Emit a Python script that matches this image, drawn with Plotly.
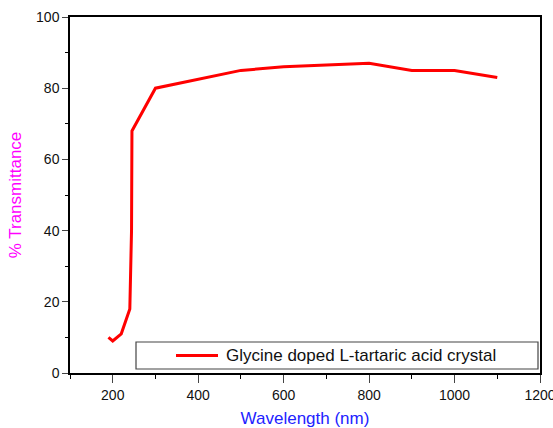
import plotly.graph_objects as go

wavelength = [190, 200, 220, 240, 244, 245, 300, 500, 600, 800, 900, 1000, 1100]
transmittance = [10, 9, 11, 18, 40, 68, 80, 85, 86, 87, 85, 85, 83]
series_name = "Glycine doped L-tartaric acid crystal"
x_ticks = [200, 400, 600, 800, 1000, 1200]
y_ticks = [0, 20, 40, 60, 80, 100]

L, R, T, B = 70, 540, 17, 373
def px(xp):
    return (xp - L) / (R - L)
def py(yp):
    return (B - yp) / (B - T)

fig = go.Figure()
fig.add_trace(go.Scatter(x=wavelength, y=transmittance, mode="lines",
                         name=series_name, showlegend=False,
                         line=dict(color="#ff0000", width=3)))

# legend box, sample line and label
fig.add_shape(type="rect", xref="paper", yref="paper",
              x0=px(136), x1=px(538), y0=py(369), y1=py(342),
              line=dict(color="#444444", width=1.2), fillcolor="rgba(0,0,0,0)")
fig.add_shape(type="line", xref="paper", yref="paper",
              x0=px(176), x1=px(218), y0=py(355.5), y1=py(355.5),
              line=dict(color="#ff0000", width=3))
fig.add_annotation(xref="paper", yref="paper", x=px(224), y=py(355.5),
                   xanchor="left", yanchor="middle", showarrow=False,
                   text=series_name, font=dict(size=17, color="#111111"))

fig.update_layout(
    width=553, height=428,
    margin=dict(l=L, r=553 - R, t=T, b=428 - B),
    paper_bgcolor="white", plot_bgcolor="white",
    font=dict(family="Liberation Sans, Arial, sans-serif", size=14, color="#111111"),
    showlegend=False,
    xaxis=dict(range=[100, 1200], tickvals=x_ticks, ticks="outside", ticklen=8,
               tickwidth=1.2, showline=True, linecolor="black", linewidth=1.5,
               mirror=True, showgrid=False, zeroline=False, automargin=False,
               ticklabeloverflow="allow",
               minor=dict(dtick=100, ticks="outside", ticklen=4, tickcolor="black"),
               title=dict(text="Wavelength (nm)", font=dict(color="#2222ff", size=17), standoff=15)),
    yaxis=dict(range=[0, 100], tickvals=y_ticks, ticks="outside", ticklen=6,
               tickwidth=1.2, showline=True, linecolor="black", linewidth=1.5,
               mirror=True, showgrid=False, zeroline=False, automargin=False,
               minor=dict(dtick=10, ticks="outside", ticklen=3, tickcolor="black"),
               title=dict(text="% Transmittance", font=dict(color="#ff00ff", size=17), standoff=10)),
)

fig.write_html("out.html")
